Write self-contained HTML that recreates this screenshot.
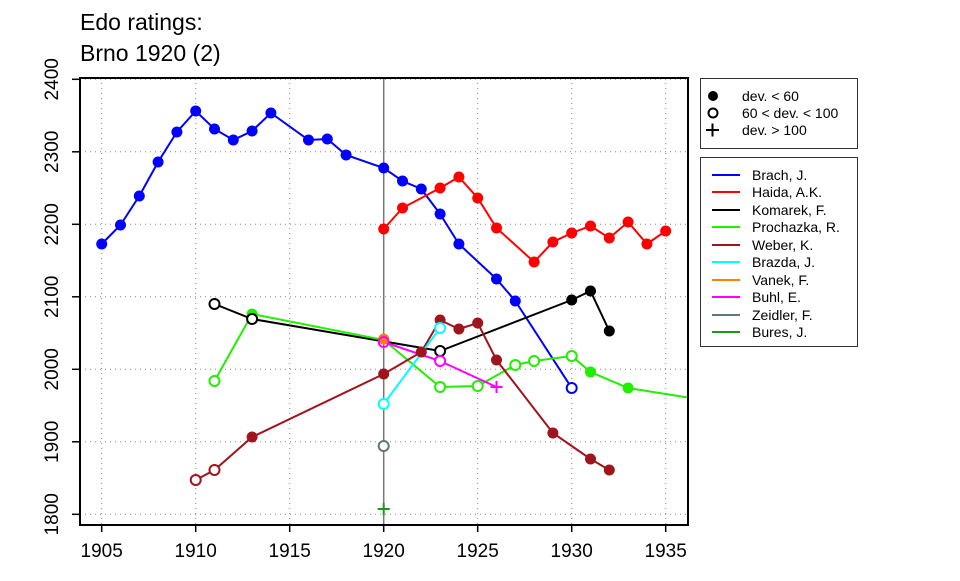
<!DOCTYPE html><html><head><style>body{margin:0;background:#fff}svg{font-family:"Liberation Sans",sans-serif}</style></head><body>
<svg width="960" height="576" xmlns="http://www.w3.org/2000/svg">
<defs><clipPath id="c"><rect x="80" y="78" width="608" height="447"/></clipPath></defs>
<text x="80" y="30" font-size="23">Edo ratings:</text>
<text x="80" y="61" font-size="23">Brno 1920 (2)</text>
<g stroke="#888" stroke-width="1" stroke-dasharray="1,4">
<line x1="101.7" y1="78" x2="101.7" y2="525"/><line x1="195.7" y1="78" x2="195.7" y2="525"/><line x1="289.7" y1="78" x2="289.7" y2="525"/><line x1="477.7" y1="78" x2="477.7" y2="525"/><line x1="571.7" y1="78" x2="571.7" y2="525"/><line x1="665.7" y1="78" x2="665.7" y2="525"/>
<line x1="80" y1="79.3" x2="688" y2="79.3"/><line x1="80" y1="151.8" x2="688" y2="151.8"/><line x1="80" y1="224.3" x2="688" y2="224.3"/><line x1="80" y1="296.8" x2="688" y2="296.8"/><line x1="80" y1="369.3" x2="688" y2="369.3"/><line x1="80" y1="441.8" x2="688" y2="441.8"/><line x1="80" y1="514.3" x2="688" y2="514.3"/>
</g>
<line x1="383.7" y1="78" x2="383.7" y2="525" stroke="#777" stroke-width="1.5"/>
<g clip-path="url(#c)" stroke-width="2" fill="none">
<polyline stroke="#0000ff" points="101.7,244 120.5,225 139.3,196 158.1,162 176.9,132 195.7,111 214.5,129 233.3,140 252.1,131 270.9,113 308.5,140 327.3,139 346.1,155 383.7,168 402.5,181 421.3,189 440.1,214 458.9,244 496.5,279 515.3,301 571.7,388"/>
<polyline stroke="#ff0000" points="383.7,229 402.5,208 440.1,188 458.9,177 477.7,198 496.5,228 534.1,262 552.9,242 571.7,233 590.5,226 609.3,238 628.1,222 646.9,244 665.7,231"/>
<polyline stroke="#000" points="214.5,304 252.1,319 440.1,351 571.7,300 590.5,291 609.3,331"/>
<polyline stroke="#22ee00" points="214.5,381 252.1,314 383.7,340 440.1,387 477.7,386 515.3,365 534.1,361 571.7,356 590.5,372 628.1,388 684.5,397 703.3,399"/>
<polyline stroke="#a0141e" points="195.7,480 214.5,470 252.1,437 383.7,374 421.3,352 440.1,320 458.9,329 477.7,323 496.5,360 552.9,433 590.5,459 609.3,470"/>
<polyline stroke="#00ffff" points="383.7,404 440.1,328"/>
<polyline stroke="#ff00ff" points="383.7,342 440.1,361 496.5,387"/>
<g stroke="none">
<g fill="#0000ff"><circle cx="101.7" cy="244" r="5.5"/><circle cx="120.5" cy="225" r="5.5"/><circle cx="139.3" cy="196" r="5.5"/><circle cx="158.1" cy="162" r="5.5"/><circle cx="176.9" cy="132" r="5.5"/><circle cx="195.7" cy="111" r="5.5"/><circle cx="214.5" cy="129" r="5.5"/><circle cx="233.3" cy="140" r="5.5"/><circle cx="252.1" cy="131" r="5.5"/><circle cx="270.9" cy="113" r="5.5"/><circle cx="308.5" cy="140" r="5.5"/><circle cx="327.3" cy="139" r="5.5"/><circle cx="346.1" cy="155" r="5.5"/><circle cx="383.7" cy="168" r="5.5"/><circle cx="402.5" cy="181" r="5.5"/><circle cx="421.3" cy="189" r="5.5"/><circle cx="440.1" cy="214" r="5.5"/><circle cx="458.9" cy="244" r="5.5"/><circle cx="496.5" cy="279" r="5.5"/><circle cx="515.3" cy="301" r="5.5"/></g>
<g fill="#ff0000"><circle cx="383.7" cy="229" r="5.5"/><circle cx="402.5" cy="208" r="5.5"/><circle cx="440.1" cy="188" r="5.5"/><circle cx="458.9" cy="177" r="5.5"/><circle cx="477.7" cy="198" r="5.5"/><circle cx="496.5" cy="228" r="5.5"/><circle cx="534.1" cy="262" r="5.5"/><circle cx="552.9" cy="242" r="5.5"/><circle cx="571.7" cy="233" r="5.5"/><circle cx="590.5" cy="226" r="5.5"/><circle cx="609.3" cy="238" r="5.5"/><circle cx="628.1" cy="222" r="5.5"/><circle cx="646.9" cy="244" r="5.5"/><circle cx="665.7" cy="231" r="5.5"/></g>
<g fill="#000"><circle cx="571.7" cy="300" r="5.5"/><circle cx="590.5" cy="291" r="5.5"/><circle cx="609.3" cy="331" r="5.5"/></g>
<g fill="#22ee00"><circle cx="252.1" cy="314" r="5.5"/><circle cx="590.5" cy="372" r="5.5"/><circle cx="628.1" cy="388" r="5.5"/></g>
<g fill="#a0141e"><circle cx="252.1" cy="437" r="5.5"/><circle cx="383.7" cy="374" r="5.5"/><circle cx="421.3" cy="352" r="5.5"/><circle cx="440.1" cy="320" r="5.5"/><circle cx="458.9" cy="329" r="5.5"/><circle cx="477.7" cy="323" r="5.5"/><circle cx="496.5" cy="360" r="5.5"/><circle cx="552.9" cy="433" r="5.5"/><circle cx="590.5" cy="459" r="5.5"/><circle cx="609.3" cy="470" r="5.5"/></g>
<circle cx="383.7" cy="339" r="5.5" fill="#ff7f00"/>
</g>
<g fill="#fff">
<circle cx="571.7" cy="388" r="5" stroke="#0000ff"/>
<circle cx="214.5" cy="304" r="5" stroke="#000"/><circle cx="252.1" cy="319" r="5" stroke="#000"/><circle cx="440.1" cy="351" r="5" stroke="#000"/>
<circle cx="214.5" cy="381" r="5" stroke="#22ee00"/><circle cx="440.1" cy="387" r="5" stroke="#22ee00"/><circle cx="477.7" cy="386" r="5" stroke="#22ee00"/><circle cx="515.3" cy="365" r="5" stroke="#22ee00"/><circle cx="534.1" cy="361" r="5" stroke="#22ee00"/><circle cx="571.7" cy="356" r="5" stroke="#22ee00"/>
<circle cx="195.7" cy="480" r="5" stroke="#a0141e"/><circle cx="214.5" cy="470" r="5" stroke="#a0141e"/>
<circle cx="383.7" cy="404" r="5" stroke="#00ffff"/><circle cx="440.1" cy="328" r="5" stroke="#00ffff"/>
<circle cx="383.7" cy="342" r="5" stroke="#ff00ff" fill="none"/><circle cx="440.1" cy="361" r="5" stroke="#ff00ff"/>
<circle cx="383.7" cy="446" r="5" stroke="#607878"/>
</g>
<path d="M490.5,387h12M496.5,381v12" stroke="#ff00ff"/>
<path d="M377.7,509h12M383.7,503v12" stroke="#1a9a1a"/>
</g>
<rect x="80" y="78" width="608" height="447" fill="none" stroke="#000" stroke-width="2"/>
<g stroke="#000" stroke-width="1.5">
<line x1="101.7" y1="525" x2="101.7" y2="532"/><line x1="195.7" y1="525" x2="195.7" y2="532"/><line x1="289.7" y1="525" x2="289.7" y2="532"/><line x1="383.7" y1="525" x2="383.7" y2="532"/><line x1="477.7" y1="525" x2="477.7" y2="532"/><line x1="571.7" y1="525" x2="571.7" y2="532"/><line x1="665.7" y1="525" x2="665.7" y2="532"/>
<line x1="72" y1="79.3" x2="80" y2="79.3"/><line x1="72" y1="151.8" x2="80" y2="151.8"/><line x1="72" y1="224.3" x2="80" y2="224.3"/><line x1="72" y1="296.8" x2="80" y2="296.8"/><line x1="72" y1="369.3" x2="80" y2="369.3"/><line x1="72" y1="441.8" x2="80" y2="441.8"/><line x1="72" y1="514.3" x2="80" y2="514.3"/>
</g>
<g font-size="19" text-anchor="middle">
<text x="101.7" y="557">1905</text><text x="195.7" y="557">1910</text><text x="289.7" y="557">1915</text><text x="383.7" y="557">1920</text><text x="477.7" y="557">1925</text><text x="571.7" y="557">1930</text><text x="665.7" y="557">1935</text>
<text transform="translate(58,79.3) rotate(-90)">2400</text><text transform="translate(58,151.8) rotate(-90)">2300</text><text transform="translate(58,224.3) rotate(-90)">2200</text><text transform="translate(58,296.8) rotate(-90)">2100</text><text transform="translate(58,369.3) rotate(-90)">2000</text><text transform="translate(58,441.8) rotate(-90)">1900</text><text transform="translate(58,514.3) rotate(-90)">1800</text>
</g>
<rect x="700.5" y="78.5" width="157" height="70" fill="none" stroke="#333"/>
<circle cx="713" cy="96" r="5"/><circle cx="713" cy="113" r="4.5" fill="none" stroke="#000" stroke-width="2"/><path d="M706,130h13M712.5,123.5v13" stroke="#000" stroke-width="2"/>
<g font-size="14"><text x="742" y="101">dev. &lt; 60</text><text x="742" y="118">60 &lt; dev. &lt; 100</text><text x="742" y="135">dev. &gt; 100</text></g>
<rect x="700.5" y="157.5" width="157" height="189" fill="none" stroke="#333"/>
<g stroke-width="2">
<line x1="712" y1="175" x2="740" y2="175" stroke="#0000ff"/><line x1="712" y1="192" x2="740" y2="192" stroke="#ff0000"/><line x1="712" y1="210" x2="740" y2="210" stroke="#000"/><line x1="712" y1="227" x2="740" y2="227" stroke="#22ee00"/><line x1="712" y1="245" x2="740" y2="245" stroke="#a0141e"/><line x1="712" y1="262" x2="740" y2="262" stroke="#00ffff"/><line x1="712" y1="280" x2="740" y2="280" stroke="#ff7f00"/><line x1="712" y1="297" x2="740" y2="297" stroke="#ff00ff"/><line x1="712" y1="315" x2="740" y2="315" stroke="#607878"/><line x1="712" y1="332" x2="740" y2="332" stroke="#1a9a1a"/>
</g>
<g font-size="14"><text x="752" y="180">Brach, J.</text><text x="752" y="197">Haida, A.K.</text><text x="752" y="215">Komarek, F.</text><text x="752" y="232">Prochazka, R.</text><text x="752" y="250">Weber, K.</text><text x="752" y="267">Brazda, J.</text><text x="752" y="285">Vanek, F.</text><text x="752" y="302">Buhl, E.</text><text x="752" y="320">Zeidler, F.</text><text x="752" y="337">Bures, J.</text></g>
</svg></body></html>
